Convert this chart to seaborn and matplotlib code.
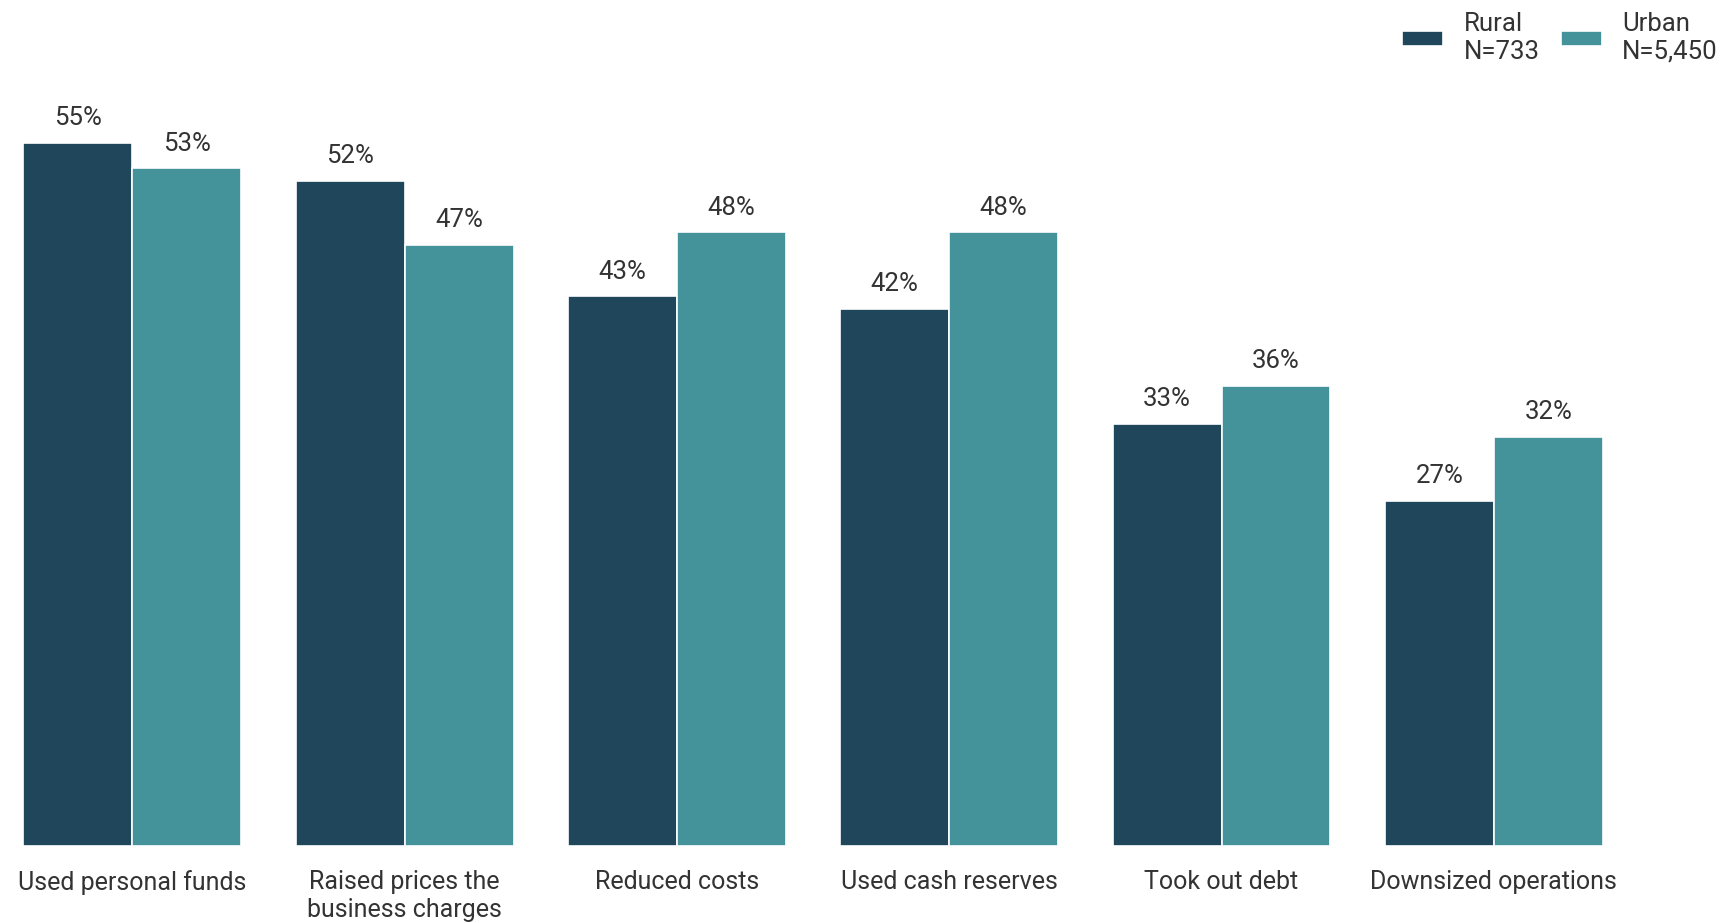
import pandas as pd
import matplotlib.pyplot as plt
import seaborn as sns

categories = ['Used personal funds', 'Raised prices the\nbusiness charges', 'Reduced costs',
              'Used cash reserves', 'Took out debt', 'Downsized operations']
rural = [55, 52, 43, 42, 33, 27]
urban = [53, 47, 48, 48, 36, 32]
groups = ['Rural\nN=733', 'Urban\nN=5,450']
colors = ['#1f465b', '#44929a']

df = pd.DataFrame({
    'Action': categories * 2,
    'Share': rural + urban,
    'Group': [groups[0]] * len(rural) + [groups[1]] * len(urban),
})

sns.set_style('white')
plt.rcParams['font.family'] = ['Roboto', 'DejaVu Sans']
plt.rcParams['text.color'] = '#333333'

fig = plt.figure(figsize=(17.34, 9.23), dpi=100)
ax = fig.add_axes([0, 0.0834, 1, 0.9166])
sns.barplot(data=df, x='Action', y='Share', hue='Group', palette=colors, saturation=1,
            width=0.8, edgecolor='white', linewidth=1.2, ax=ax)

for cont in ax.containers:
    ax.bar_label(cont, labels=[f'{v:.0f}%' for v in cont.datavalues],
                 padding=9, fontsize=18.5, color='#333333')

ax.set_xlim(-0.486, 5.882)
ax.set_ylim(0, 66.15)
ax.set_xlabel('')
ax.set_ylabel('')
ax.set_yticks([])
ax.tick_params(axis='x', length=0, pad=17.5, labelsize=18, labelcolor='#333333')
for t in ax.get_xticklabels():
    t.set_linespacing(1.2)
sns.despine(ax=ax, left=True, bottom=True)

handles, labels = ax.get_legend_handles_labels()
ax.legend_.remove()
fig.legend(handles, labels, loc='upper right', bbox_to_anchor=(1.004, 1.012), ncol=2,
           frameon=False, fontsize=18.5, handlelength=1.6, handleheight=0.55,
           columnspacing=0.8, handletextpad=0.8, labelcolor='#333333')

fig.savefig('out.png', dpi=100)
